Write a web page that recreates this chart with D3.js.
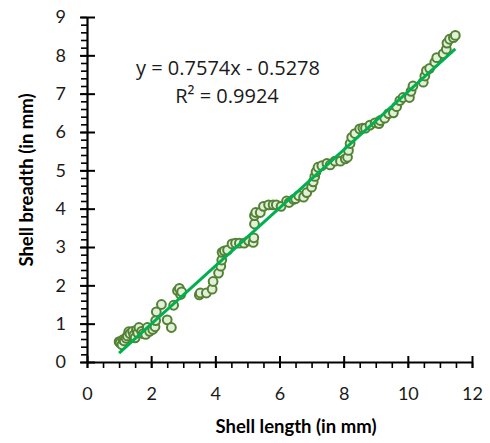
<!DOCTYPE html>
<html>
<head>
<meta charset="utf-8">
<script src="https://cdn.jsdelivr.net/npm/d3@7"></script>
<style>
  body { margin: 0; background: #fff; }
  svg { display: block; }
  .tick text { font-family: Lato, sans-serif; font-size: 18px; fill: #1a1a1a; }
</style>
</head>
<body>
<div class="container"></div>
<script>
const shellLength = [
  1.00, 1.03, 1.09, 1.12, 1.16, 1.22, 1.26, 1.30, 1.34, 1.42,
  1.46, 1.50, 1.54, 1.58, 1.62, 1.70, 1.75, 1.83, 1.88, 1.95,
  2.05, 2.12, 2.14, 2.16, 2.32, 2.50, 2.63, 2.70, 2.82, 2.88,
  2.92, 2.95, 3.50, 3.53, 3.72, 3.90, 3.93, 4.10, 4.17, 4.20,
  4.21, 4.28, 4.38, 4.52, 4.63, 4.75, 4.90, 5.04, 5.18, 5.20,
  5.22, 5.22, 5.26, 5.40, 5.50, 5.66, 5.80, 5.90, 6.05, 6.22,
  6.30, 6.44, 6.50, 6.60, 6.75, 6.85, 7.00, 7.05, 7.10, 7.14,
  7.20, 7.32, 7.48, 7.58, 7.73, 7.90, 8.05, 8.12, 8.15, 8.20,
  8.25, 8.35, 8.50, 8.60, 8.68, 8.82, 8.98, 9.10, 9.14, 9.28,
  9.40, 9.55, 9.65, 9.75, 9.85, 10.05, 10.10, 10.16, 10.48, 10.53,
  10.58, 10.68, 10.84, 10.90, 11.10, 11.20, 11.22, 11.30, 11.42, 11.48
];
const shellBreadth = [
  0.53, 0.50, 0.45, 0.58, 0.55, 0.62, 0.68, 0.79, 0.74, 0.80,
  0.70, 0.63, 0.83, 0.76, 0.90, 0.80, 0.74, 0.72, 0.90, 0.80,
  0.85, 0.92, 1.08, 1.31, 1.50, 1.10, 0.90, 1.48, 1.86, 1.92,
  1.76, 1.83, 1.75, 1.80, 1.80, 1.90, 2.10, 2.32, 2.50, 2.66,
  2.86, 2.90, 2.92, 3.08, 3.10, 3.10, 3.10, 3.16, 3.12, 3.24,
  3.60, 3.82, 3.90, 3.90, 4.06, 4.10, 4.10, 4.10, 4.06, 4.20,
  4.16, 4.24, 4.26, 4.34, 4.30, 4.42, 4.56, 4.70, 4.84, 4.96,
  5.08, 5.12, 5.18, 5.14, 5.24, 5.24, 5.30, 5.34, 5.52, 5.70,
  5.86, 5.96, 6.08, 6.10, 6.10, 6.18, 6.24, 6.22, 6.30, 6.36,
  6.48, 6.50, 6.66, 6.82, 6.90, 6.90, 7.06, 7.20, 7.30, 7.46,
  7.60, 7.66, 7.82, 7.94, 8.04, 8.16, 8.32, 8.42, 8.46, 8.52
];
// linear trendline as printed on the chart
const trendSlope = 0.7574;
const trendIntercept = -0.5278;
const trendR2 = 0.9924;
const xTicks = [0, 2, 4, 6, 8, 10, 12];
const yTicks = [0, 1, 2, 3, 4, 5, 6, 7, 8, 9];

const colors = {
  marker: '#548235',
  markerFill: '#e2efd9',
  trend: '#00b050',
  axis: '#000'
};

const W = 490;
const H = 443;
const margin = { top: 17, right: 18, bottom: 81, left: 87 };

const svg = d3.select('.container')
  .append('svg')
  .attr('width', W)
  .attr('height', H);

const x = d3.scaleLinear()
  .domain([0, 12])
  .range([margin.left, W - margin.right]);

const y = d3.scaleLinear()
  .domain([0, 9])
  .range([H - margin.bottom, margin.top]);

// minor ticks first, major ticks on top
svg.append('g')
  .attr('transform', `translate(0, ${y(0)})`)
  .call(d3.axisBottom(x).tickValues(d3.range(0, 12.01, 0.5)).tickSize(6).tickSizeOuter(0).tickFormat(''))
  .call(g => g.selectAll('line').attr('stroke-width', 1.6))
  .call(g => g.select('.domain').remove());

svg.append('g')
  .attr('transform', `translate(${x(0)}, 0)`)
  .call(d3.axisLeft(y).tickValues(d3.range(0, 9.01, 0.2)).tickSize(6).tickSizeOuter(0).tickFormat(''))
  .call(g => g.selectAll('line').attr('stroke-width', 1.6))
  .call(g => g.select('.domain').remove());

const xAxis = svg.append('g')
  .attr('transform', `translate(0, ${y(0)})`)
  .call(d3.axisBottom(x).tickValues(xTicks).tickSize(6).tickSizeOuter(0).tickPadding(19));

xAxis.selectAll('.tick line').attr('y1', -6).attr('y2', 6).attr('stroke-width', 2);
xAxis.select('.domain').attr('stroke-width', 2.2);

const yAxis = svg.append('g')
  .attr('transform', `translate(${x(0)}, 0)`)
  .call(d3.axisLeft(y).tickValues(yTicks).tickSize(7).tickSizeOuter(0).tickPadding(14));

yAxis.selectAll('.tick line').attr('x1', 8).attr('x2', -7).attr('stroke-width', 2);
yAxis.select('.domain').attr('stroke-width', 2.2);

// data points
const points = shellLength.map((d, i) => ({ len: d, br: shellBreadth[i] }));

svg.append('g')
  .selectAll('circle')
  .data(points)
  .enter()
  .append('circle')
  .attr('cx', d => x(d.len))
  .attr('cy', d => y(d.br))
  .attr('r', 4.4)
  .attr('fill', colors.markerFill)
  .attr('stroke', colors.marker)
  .attr('stroke-width', 2);

// trendline over the range of the data
const xExtent = d3.extent(shellLength);
svg.append('line')
  .attr('x1', x(xExtent[0]))
  .attr('y1', y(trendSlope * xExtent[0] + trendIntercept))
  .attr('x2', x(xExtent[1]))
  .attr('y2', y(trendSlope * xExtent[1] + trendIntercept))
  .attr('stroke', colors.trend)
  .attr('stroke-width', 3);

// equation label
const eq = svg.append('text')
  .attr('font-family', '"Open Sans", sans-serif')
  .attr('font-size', 20)
  .attr('fill', '#1a1a1a')
  .attr('text-anchor', 'middle');

eq.append('tspan')
  .attr('x', 228)
  .attr('y', 75)
  .text(`y = ${trendSlope}x - ${Math.abs(trendIntercept)}`);

eq.append('tspan')
  .attr('x', 227)
  .attr('y', 103)
  .text(`R² = ${trendR2}`);

// axis titles
svg.append('text')
  .attr('x', 296)
  .attr('y', 433)
  .attr('text-anchor', 'middle')
  .attr('font-family', 'Lato, sans-serif')
  .attr('font-weight', 'bold')
  .attr('font-size', 18.5)
  .attr('fill', '#000')
  .text('Shell length (in mm)');

svg.append('text')
  .attr('transform', 'translate(33, 180) rotate(-90)')
  .attr('text-anchor', 'middle')
  .attr('font-family', 'Lato, sans-serif')
  .attr('font-weight', 'bold')
  .attr('font-size', 18.5)
  .attr('fill', '#000')
  .text('Shell breadth (in mm)');
</script>
</body>
</html>
